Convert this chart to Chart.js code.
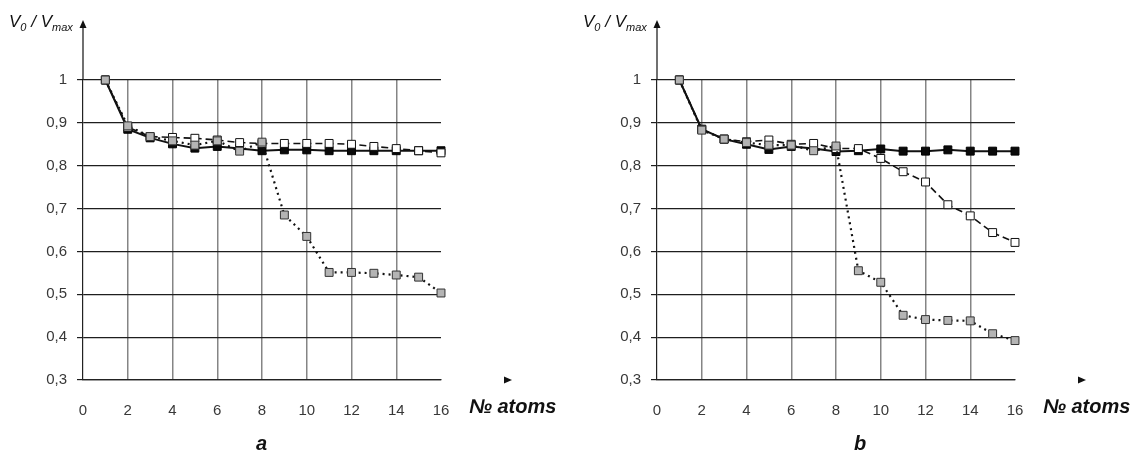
<!DOCTYPE html>
<html>
<head>
<meta charset="utf-8">
<script src="https://cdn.jsdelivr.net/npm/chart.js@4.4.1/dist/chart.umd.min.js"></script>
<style>
  html, body { margin: 0; padding: 0; background: #fff; }
  body { width: 1148px; height: 457px; position: relative; overflow: hidden; font-family: "Liberation Sans", Arial, sans-serif; }
  canvas { position: absolute; top: 0; }
  .ytitle { position: absolute; top: 12px; font-style: italic; font-size: 17px; line-height: 20px; color: #111; white-space: nowrap; }
  .ytitle sub { font-size: 11px; vertical-align: -4px; line-height: 0; }
  .xtitle { position: absolute; top: 395px; font-style: italic; font-weight: bold; font-size: 20px; color: #111; white-space: nowrap; }
  .panel { position: absolute; top: 432px; font-style: italic; font-weight: bold; font-size: 20px; color: #111; }
</style>
</head>
<body>
<canvas id="ca" width="574" height="457" style="left:0px"></canvas>
<canvas id="cb" width="574" height="457" style="left:574px"></canvas>
<div class="ytitle" style="left:9px">V<sub>0</sub> / V<sub>max</sub></div>
<div class="ytitle" style="left:583px">V<sub>0</sub> / V<sub>max</sub></div>
<div class="xtitle" style="left:469px">№ atoms</div>
<div class="xtitle" style="left:1043px">№ atoms</div>
<div class="panel" style="left:256px">a</div>
<div class="panel" style="left:854px">b</div>
<script>
const atoms = [1, 2, 3, 4, 5, 6, 7, 8, 9, 10, 11, 12, 13, 14, 15, 16];
const xTicks = [0, 2, 4, 6, 8, 10, 12, 14, 16];
const yTicks = [0.3, 0.4, 0.5, 0.6, 0.7, 0.8, 0.9, 1];

const aBlack = [1, 0.885, 0.865, 0.851, 0.841, 0.845, 0.840, 0.835, 0.837, 0.837, 0.835, 0.835, 0.835, 0.835, 0.835, 0.835];
const aWhite = [1, 0.890, 0.868, 0.866, 0.864, 0.860, 0.854, 0.852, 0.852, 0.852, 0.852, 0.850, 0.845, 0.840, 0.835, 0.830];
const aGray  = [1, 0.893, 0.868, 0.858, 0.848, 0.858, 0.834, 0.855, 0.685, 0.635, 0.551, 0.551, 0.549, 0.545, 0.540, 0.503];

const bBlack = [1, 0.885, 0.862, 0.850, 0.838, 0.845, 0.840, 0.833, 0.835, 0.839, 0.834, 0.834, 0.837, 0.834, 0.834, 0.834];
const bWhite = [1, 0.885, 0.862, 0.856, 0.860, 0.850, 0.852, 0.840, 0.840, 0.817, 0.786, 0.762, 0.709, 0.683, 0.644, 0.621];
const bGray  = [1, 0.883, 0.862, 0.854, 0.848, 0.848, 0.835, 0.846, 0.555, 0.528, 0.451, 0.441, 0.439, 0.438, 0.408, 0.392];

const FONT = "'Liberation Sans', Arial, sans-serif";

const arrowPlugin = {
  id: 'axisArrows',
  afterDraw(chart) {
    const ctx = chart.ctx;
    const xs = chart.scales.x, ys = chart.scales.y;
    const x0 = xs.getPixelForValue(0);
    const yb = ys.getPixelForValue(0.3);
    const yt = ys.getPixelForValue(1);
    ctx.save();
    ctx.strokeStyle = '#111';
    ctx.fillStyle = '#111';
    ctx.lineWidth = 1.2;
    ctx.beginPath();
    ctx.moveTo(x0, yt);
    ctx.lineTo(x0, 27);
    ctx.stroke();
    ctx.beginPath();
    ctx.moveTo(x0, 20);
    ctx.lineTo(x0 - 3.5, 28);
    ctx.lineTo(x0 + 3.5, 28);
    ctx.closePath();
    ctx.fill();
    const xa = xs.getPixelForValue(16) + 63;
    ctx.beginPath();
    ctx.moveTo(xa + 8, yb);
    ctx.lineTo(xa, yb - 3.5);
    ctx.lineTo(xa, yb + 3.5);
    ctx.closePath();
    ctx.fill();
    ctx.restore();
  }
};

function series(data, fill, border, dash, width) {
  return {
    data: atoms.map((x, i) => ({ x: x, y: data[i] })),
    borderColor: '#111',
    borderWidth: width,
    borderDash: dash,
    backgroundColor: fill,
    pointBackgroundColor: fill,
    pointBorderColor: border,
    pointBorderWidth: 1,
    pointStyle: 'rect',
    pointRadius: 5.6,
    pointHoverRadius: 5.6,
    tension: 0,
    fill: false,
    clip: false
  };
}

function makeChart(id, black, white, gray) {
  return new Chart(document.getElementById(id), {
    type: 'line',
    data: {
      datasets: [
        series(gray, '#b4b4b4', '#333', [2, 4], 2.2),
        series(white, '#ffffff', '#111', [7, 4], 1.6),
        series(black, '#0a0a0a', '#000', [], 2)
      ]
    },
    options: {
      responsive: false,
      animation: false,
      events: [],
      layout: { padding: { left: 0, top: 80, right: 133, bottom: 0 } },
      plugins: { legend: { display: false }, tooltip: { enabled: false }, title: { display: false } },
      scales: {
        x: {
          type: 'linear',
          min: 0, max: 16,
          afterBuildTicks: s => { s.ticks = xTicks.map(v => ({ value: v })); },
          afterFit: s => { s.height = 77; },
          ticks: { color: '#383838', font: { family: FONT, size: 15 }, padding: 22, maxRotation: 0, autoSkip: false, callback: v => String(v) },
          grid: {
            drawTicks: false,
            color: c => (c.tick && (c.tick.value === 0 || c.tick.value === 16)) ? 'rgba(0,0,0,0)' : '#858585',
            lineWidth: 1.5
          },
          border: { display: true, color: '#222', width: 1.2 }
        },
        y: {
          type: 'linear',
          min: 0.3, max: 1,
          afterBuildTicks: s => { s.ticks = yTicks.map(v => ({ value: v })); },
          afterFit: s => { s.width = 83; },
          ticks: {
            color: '#383838', font: { family: FONT, size: 15 }, padding: 10, autoSkip: false,
            callback: v => { const r = Math.round(v * 10) / 10; return r === 1 ? '1' : r.toFixed(1).replace('.', ','); }
          },
          grid: { drawTicks: true, tickLength: 6, color: '#1e1e1e', lineWidth: 1.2 },
          border: { display: true, color: '#222', width: 1.2 }
        }
      }
    },
    plugins: [arrowPlugin]
  });
}

makeChart('ca', aBlack, aWhite, aGray);
makeChart('cb', bBlack, bWhite, bGray);
</script>
</body>
</html>
